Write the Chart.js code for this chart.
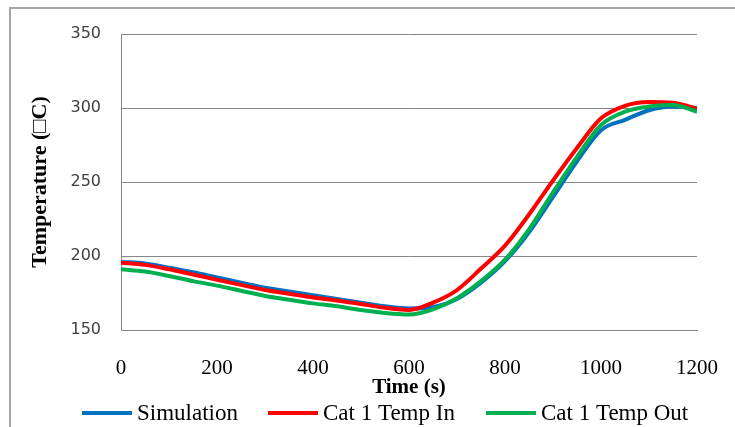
<!DOCTYPE html>
<html>
<head>
<meta charset="utf-8">
<title>Catalyst temperature</title>
<script src="https://cdn.jsdelivr.net/npm/chart.js@4"></script>
<style>
  html, body { margin: 0; padding: 0; background: #fff; overflow: hidden; }
</style>
</head>
<body>
<canvas id="tempChart" width="735" height="427"></canvas>
<script>
// time in seconds, one sample every 50 s
const timeSec = [0, 50, 100, 150, 200, 250, 300, 350, 400, 450, 500, 550, 600,
                 650, 700, 750, 800, 850, 900, 950, 1000, 1050, 1100, 1150, 1200];

const simulation = [196, 195, 192, 189, 185.5, 182, 178.5, 176, 173.5, 171, 168.5, 166, 164.5,
                    165.5, 171, 182, 196.5, 216, 240, 264, 285, 292, 298.5, 301, 300];
const cat1TempIn = [195.5, 194, 191, 187.5, 184, 180.5, 177, 174.5, 172, 170, 167.5, 165, 163.5,
                    168.5, 177, 191.5, 207, 228, 251, 273, 293, 301.5, 304, 303.5, 299.5];
const cat1TempOut = [191, 189.5, 186.5, 183, 180, 176.5, 173, 170.5, 168, 166, 163.5, 161.5, 160.5,
                     164, 171.5, 183, 197.5, 218, 243, 267, 288.5, 297.5, 301, 302, 297.5];

const seriesNames = ['Simulation', 'Cat 1 Temp In', 'Cat 1 Temp Out'];
const seriesColors = ['#0070C0', '#FF0000', '#00B050'];

const xTicks = [0, 200, 400, 600, 800, 1000, 1200];
const yTicks = [150, 200, 250, 300, 350];

const serif = "'Liberation Serif', 'Times New Roman', serif";

function toPoints(values) {
    return values.map((v, i) => ({ x: timeSec[i], y: v }));
}

// grey frame around the whole figure
const outerFrame = {
    id: 'outerFrame',
    beforeDraw(chart) {
        const c = chart.ctx;
        c.save();
        c.strokeStyle = '#a6a6a6';
        c.lineWidth = 2;
        c.strokeRect(10, 8, 900, 600);
        c.restore();
    }
};

// legend row under the axis title: short line swatch + label
const lineLegend = {
    id: 'lineLegend',
    afterDraw(chart) {
        const c = chart.ctx;
        const starts = [82, 268, 486];
        const y = 413;
        c.save();
        c.font = '23px ' + serif;
        c.textBaseline = 'middle';
        c.fillStyle = '#000';
        chart.data.datasets.forEach((ds, i) => {
            const x0 = starts[i];
            c.strokeStyle = ds.borderColor;
            c.lineWidth = 4;
            c.beginPath();
            c.moveTo(x0, y);
            c.lineTo(x0 + 50, y);
            c.stroke();
            c.fillText(ds.label, x0 + 55, y + 1);
        });
        c.restore();
    }
};

const ctx = document.getElementById('tempChart').getContext('2d');
new Chart(ctx, {
    type: 'line',
    data: {
        datasets: [simulation, cat1TempIn, cat1TempOut].map((vals, i) => ({
            label: seriesNames[i],
            data: toPoints(vals),
            borderColor: seriesColors[i],
            backgroundColor: seriesColors[i],
            order: 3 - i
        }))
    },
    options: {
        responsive: false,
        animation: false,
        devicePixelRatio: 1,
        layout: { padding: { left: 33, right: 38, top: 34, bottom: 47 } },
        elements: {
            line: { borderWidth: 4, cubicInterpolationMode: 'monotone', fill: false },
            point: { radius: 0, hoverRadius: 0 }
        },
        scales: {
            x: {
                type: 'linear',
                min: 0,
                max: 1200,
                afterBuildTicks: s => { s.ticks = xTicks.map(v => ({ value: v })); },
                afterFit: s => { s.height = 50; s.paddingLeft = 0; s.paddingRight = 0; },
                grid: { display: false },
                border: { display: true, color: '#868686', width: 1 },
                ticks: {
                    padding: 18,
                    color: '#000',
                    font: { family: serif, size: 21 },
                    maxRotation: 0,
                    callback: v => String(v)
                },
                title: {
                    display: true,
                    text: 'Time (s)',
                    color: '#000',
                    font: { family: serif, size: 21, weight: 'bold' },
                    padding: { top: 0, bottom: -20 }
                }
            },
            y: {
                min: 150,
                max: 350,
                afterBuildTicks: s => { s.ticks = yTicks.map(v => ({ value: v })); },
                afterFit: s => { s.width = 88; },
                grid: { color: '#868686', lineWidth: 1, drawTicks: false },
                border: { display: true, color: '#868686', width: 1 },
                ticks: {
                    padding: 20,
                    color: '#404040',
                    font: { family: "'DejaVu Sans', Verdana, sans-serif", size: 16 },
                    callback: v => String(v)
                },
                title: {
                    display: true,
                    text: 'Temperature (\u25A1C)',
                    color: '#000',
                    font: { family: serif, size: 22, weight: 'bold' },
                    padding: { top: -6, bottom: 0 }
                }
            }
        },
        plugins: {
            legend: { display: false },
            title: { display: false },
            tooltip: { enabled: false }
        }
    },
    plugins: [outerFrame, lineLegend]
});
</script>
</body>
</html>
